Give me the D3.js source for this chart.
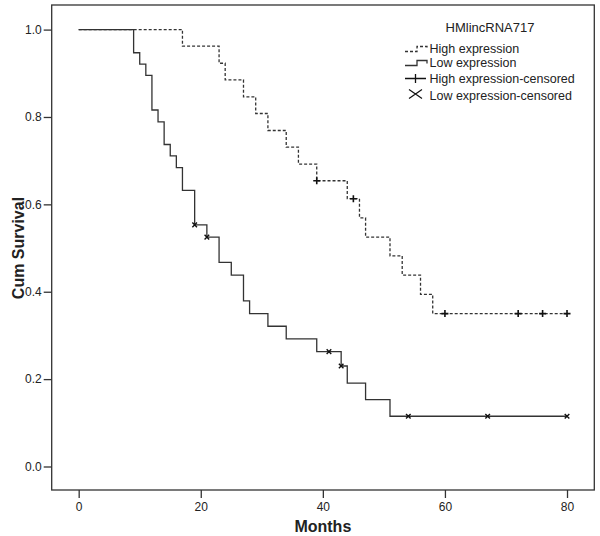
<!DOCTYPE html>
<html>
<head>
<meta charset="utf-8">
<script src="https://cdn.jsdelivr.net/npm/d3@7"></script>
<style>
  body { margin: 0; background: #fff; }
  #wrapper { width: 600px; height: 536px; }
  text { font-family: "Liberation Sans", Arial, sans-serif; fill: #222; }
</style>
</head>
<body>
<div id="wrapper"></div>
<script>
// data
const lowTimes = [0, 9, 10, 11, 12, 13, 14, 15, 16, 17, 19, 21, 23, 25, 27, 28, 31, 34, 39, 43, 44, 47, 51, 80]
const lowSurv = [1.0, 0.947, 0.921, 0.895, 0.816, 0.789, 0.737, 0.711, 0.684, 0.632, 0.553, 0.525, 0.467, 0.438, 0.379, 0.350, 0.321, 0.292, 0.263, 0.230, 0.191, 0.153, 0.115, 0.115]
const lowCensTimes = [19, 21, 41, 43, 54, 67, 80]
const lowCensSurv = [0.553, 0.525, 0.263, 0.230, 0.115, 0.115, 0.115]

const highTimes = [0, 17, 23, 24, 27, 29, 31, 34, 36, 39, 44, 46, 47, 51, 53, 56, 58, 80]
const highSurv = [1.0, 0.962, 0.923, 0.885, 0.846, 0.808, 0.769, 0.731, 0.692, 0.654, 0.613, 0.569, 0.525, 0.482, 0.438, 0.394, 0.350, 0.350]
const highCensTimes = [39, 45, 60, 72, 76, 80]
const highCensSurv = [0.654, 0.613, 0.350, 0.350, 0.350, 0.350]

const xTicks = [0, 20, 40, 60, 80]
const yTicks = [0, 0.2, 0.4, 0.6, 0.8, 1.0]
const legendTitle = 'HMlincRNA717'
const legendLabels = ['High expression', 'Low expression', 'High expression-censored', 'Low expression-censored']

function drawChart() {
  const zip = (ts, vs) => ts.map((t, i) => ({ t: t, s: vs[i] }))
  const lowData = zip(lowTimes, lowSurv)
  const highData = zip(highTimes, highSurv)
  const lowCens = zip(lowCensTimes, lowCensSurv)
  const highCens = zip(highCensTimes, highCensSurv)

  const xAccessor = d => d.t
  const yAccessor = d => d.s

  //dimensions
  let dimensions = {
    width: 600,
    height: 536,
    margin: {
      top: 5,
      right: 5.7,
      bottom: 46,
      left: 51.7
    }
  }
  dimensions.boundedWidth = dimensions.width - dimensions.margin.left - dimensions.margin.right
  dimensions.boundedHeight = dimensions.height - dimensions.margin.top - dimensions.margin.bottom

  const wrapper = d3.select('#wrapper')
    .append('svg')
      .attr('width', dimensions.width)
      .attr('height', dimensions.height)

  const bounds = wrapper.append('g')
    .attr('transform', `translate(${dimensions.margin.left}, ${dimensions.margin.top})`)

  //scales
  const xScale = d3.scaleLinear()
    .domain([-4.42, 84.47])
    .range([0, dimensions.boundedWidth])

  const yScale = d3.scaleLinear()
    .domain([-0.0538, 1.0563])
    .range([dimensions.boundedHeight, 0])

  const lineColor = '#333'

  //step lines
  const lineGenerator = d3.line()
    .x(d => xScale(xAccessor(d)))
    .y(d => yScale(yAccessor(d)))
    .curve(d3.curveStepAfter)

  bounds.append('path')
    .attr('d', lineGenerator(lowData))
    .attr('fill', 'none')
    .attr('stroke', lineColor)
    .attr('stroke-width', 1.3)

  bounds.append('path')
    .attr('d', lineGenerator(highData))
    .attr('fill', 'none')
    .attr('stroke', lineColor)
    .attr('stroke-width', 1.3)
    .attr('stroke-dasharray', '3,2')

  //censor marks
  const plusSize = 3.5
  bounds.append('g').selectAll('path')
    .data(highCens)
    .enter().append('path')
      .attr('d', d => {
        const x = xScale(xAccessor(d)), y = yScale(yAccessor(d))
        return `M${x - plusSize},${y}H${x + plusSize}M${x},${y - plusSize}V${y + plusSize}`
      })
      .attr('stroke', '#111')
      .attr('stroke-width', 1.6)

  const crossSize = 2.3
  bounds.append('g').selectAll('path')
    .data(lowCens)
    .enter().append('path')
      .attr('d', d => {
        const x = xScale(xAccessor(d)), y = yScale(yAccessor(d))
        return `M${x - crossSize},${y - crossSize}L${x + crossSize},${y + crossSize}M${x - crossSize},${y + crossSize}L${x + crossSize},${y - crossSize}`
      })
      .attr('stroke', '#111')
      .attr('stroke-width', 1.4)

  //frame
  bounds.append('rect')
    .attr('width', dimensions.boundedWidth)
    .attr('height', dimensions.boundedHeight)
    .attr('fill', 'none')
    .attr('stroke', lineColor)
    .attr('stroke-width', 1.3)

  //axes
  const xAxis = bounds.append('g')
    .attr('transform', `translate(0, ${dimensions.boundedHeight})`)
    .call(d3.axisBottom(xScale).tickValues(xTicks).tickSize(8).tickPadding(4))
  const yAxis = bounds.append('g')
    .call(d3.axisLeft(yScale).tickValues(yTicks).tickSize(8).tickPadding(2).tickFormat(d3.format('.1f')))

  ;[xAxis, yAxis].forEach(axis => {
    axis.select('.domain').remove()
    axis.selectAll('line').attr('stroke', lineColor).attr('stroke-width', 1.3)
    axis.selectAll('text')
      .attr('fill', '#222')
      .style('font-size', '12px')
      .style('font-family', '"Liberation Sans", Arial, sans-serif')
  })

  //axis labels
  wrapper.append('text')
    .attr('x', dimensions.margin.left + xScale(40))
    .attr('y', 531.5)
    .attr('text-anchor', 'middle')
    .style('font-size', '16px')
    .style('font-weight', 'bold')
    .text('Months')

  wrapper.append('text')
    .attr('transform', `translate(24, ${dimensions.margin.top + yScale(0.5)}) rotate(-90)`)
    .attr('text-anchor', 'middle')
    .style('font-size', '16px')
    .style('font-weight', 'bold')
    .text('Cum Survival')

  //legend
  const legend = wrapper.append('g')

  legend.append('text')
    .attr('x', 490)
    .attr('y', 31.5)
    .attr('text-anchor', 'middle')
    .style('font-size', '13px')
    .text(legendTitle)

  const rowY = [52.5, 66.5, 83, 99.5]
  const textX = 429.5
  legend.selectAll('.label')
    .data(legendLabels)
    .enter().append('text')
      .attr('x', textX)
      .attr('y', (d, i) => rowY[i])
      .style('font-size', '12.5px')
      .text(d => d)

  const sx = 405
  legend.append('path')
    .attr('d', `M${sx},${rowY[0] - 1}H${sx + 12}V${rowY[0] - 6}H${sx + 22}V${rowY[0] - 3}`)
    .attr('fill', 'none')
    .attr('stroke', lineColor)
    .attr('stroke-width', 1.3)
    .attr('stroke-dasharray', '3,2')

  legend.append('path')
    .attr('d', `M${sx},${rowY[1] - 1}H${sx + 12}V${rowY[1] - 6}H${sx + 22}V${rowY[1] - 3}`)
    .attr('fill', 'none')
    .attr('stroke', lineColor)
    .attr('stroke-width', 1.3)

  legend.append('path')
    .attr('d', `M${sx},${rowY[2] - 4.5}H${sx + 21}M${sx + 10.5},${rowY[2] - 9}V${rowY[2]}`)
    .attr('stroke', '#111')
    .attr('stroke-width', 1.3)

  legend.append('path')
    .attr('d', `M${sx + 4},${rowY[3] - 10}L${sx + 17},${rowY[3] - 1}M${sx + 4},${rowY[3] - 1}L${sx + 17},${rowY[3] - 10}`)
    .attr('stroke', '#111')
    .attr('stroke-width', 1.2)
}

drawChart()
</script>
</body>
</html>
